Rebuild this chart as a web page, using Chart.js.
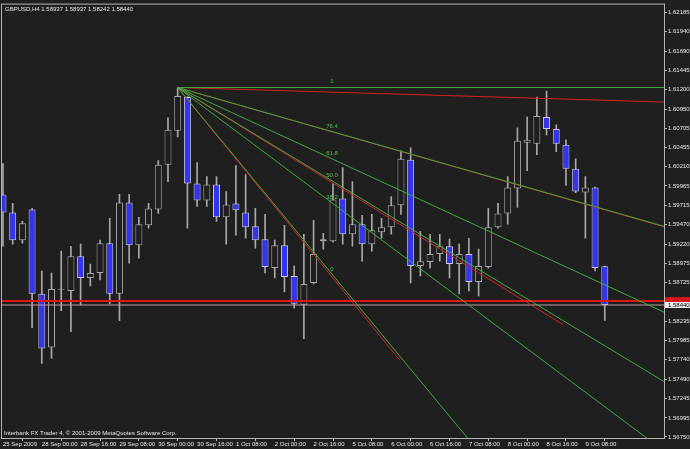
<!DOCTYPE html>
<html>
<head>
<meta charset="utf-8">
<script src="https://cdn.jsdelivr.net/npm/chart.js@4.4.1/dist/chart.umd.min.js"></script>
<style>
  html, body { margin: 0; padding: 0; background: #1f1f1f; }
  canvas { display: block; background: #1f1f1f; }
</style>
</head>
<body>
<canvas id="chart" width="690" height="449"></canvas>
<script>
// GBPUSD H4, one entry per bar (bar 0 = 25 Sep 2009 08:00)
const opens = [1.59856, 1.59626, 1.59270, 1.59664, 1.58583, 1.57895, 1.58634, 1.58621, 1.59066, 1.58786,
  1.58850, 1.59232, 1.58583, 1.59754, 1.59206, 1.59461, 1.59664, 1.60237, 1.60670, 1.61103,
  1.59995, 1.59779, 1.59983, 1.59563, 1.59741, 1.59626, 1.59448, 1.59283, 1.58913, 1.59206,
  1.58812, 1.58442, 1.58723, 1.59257, 1.59257, 1.59805, 1.59346, 1.59474, 1.59219, 1.59372,
  1.59436, 1.59716, 1.60301, 1.58938, 1.58990, 1.59092, 1.59193, 1.58964, 1.59092, 1.58735,
  1.58926, 1.59436, 1.59613, 1.59932, 1.60517, 1.60504, 1.60848, 1.60695, 1.60492, 1.60186,
  1.59881, 1.59944, 1.58937];
const highs = [1.60250, 1.59741, 1.59512, 1.59677, 1.58875, 1.58850, 1.59130, 1.59193, 1.59219, 1.58964,
  1.59270, 1.59550, 1.59856, 1.59856, 1.59563, 1.59741, 1.60288, 1.60836, 1.61225, 1.61110,
  1.60263, 1.60084, 1.60084, 1.59894, 1.60224, 1.60110, 1.59677, 1.59601, 1.59270, 1.59461,
  1.58938, 1.59346, 1.59525, 1.59359, 1.59995, 1.60199, 1.60021, 1.59588, 1.59601, 1.59550,
  1.59830, 1.60415, 1.60453, 1.59384, 1.59346, 1.59346, 1.59283, 1.59219, 1.59295, 1.59155,
  1.59677, 1.59741, 1.60084, 1.60708, 1.60848, 1.61103, 1.61179, 1.60746, 1.60555, 1.60313,
  1.60084, 1.59950, 1.58937];
const lows = [1.59193, 1.59219, 1.59232, 1.58150, 1.57692, 1.57755, 1.58366, 1.58099, 1.58442, 1.58684,
  1.58761, 1.58455, 1.58239, 1.58977, 1.59041, 1.59423, 1.59613, 1.60021, 1.60594, 1.59423,
  1.59703, 1.59703, 1.59512, 1.59219, 1.59333, 1.59295, 1.59168, 1.58850, 1.58786, 1.58608,
  1.58404, 1.58010, 1.58710, 1.59155, 1.59245, 1.59219, 1.59193, 1.59002, 1.59130, 1.59295,
  1.59346, 1.59601, 1.58723, 1.58812, 1.58913, 1.59002, 1.58786, 1.58583, 1.58621, 1.58557,
  1.58913, 1.59423, 1.59474, 1.59690, 1.60161, 1.60364, 1.60619, 1.60403, 1.59970, 1.59880,
  1.59295, 1.58875, 1.58242];
const closes = [1.59626, 1.59270, 1.59487, 1.58583, 1.57882, 1.58646, 1.58646, 1.59066, 1.58786, 1.58850,
  1.59232, 1.58583, 1.59754, 1.59206, 1.59474, 1.59677, 1.60237, 1.60683, 1.61116, 1.59995,
  1.59779, 1.59983, 1.59563, 1.59728, 1.59652, 1.59436, 1.59270, 1.58926, 1.59206, 1.58799,
  1.58455, 1.58710, 1.59092, 1.59283, 1.59792, 1.59346, 1.59474, 1.59219, 1.59397, 1.59436,
  1.59716, 1.60313, 1.58938, 1.59002, 1.59092, 1.59193, 1.58964, 1.59092, 1.58735, 1.58938,
  1.59436, 1.59613, 1.59944, 1.60542, 1.60555, 1.60861, 1.60695, 1.60504, 1.60186, 1.59894,
  1.59944, 1.58913, 1.58440];

const tickBars = [0, 4, 8, 12, 16, 20, 24, 28, 32, 36, 40, 44, 48, 52, 56, 60];
const tickLabels = ["25 Sep 2009", "28 Sep 00:00", "28 Sep 16:00", "29 Sep 08:00", "30 Sep 00:00",
  "30 Sep 16:00", "1 Oct 08:00", "2 Oct 00:00", "2 Oct 16:00", "5 Oct 08:00", "6 Oct 00:00",
  "6 Oct 16:00", "7 Oct 08:00", "8 Oct 00:00", "8 Oct 16:00", "9 Oct 08:00"];
const priceTicks = [1.62185, 1.61940, 1.61690, 1.61445, 1.61200, 1.60950, 1.60705, 1.60455, 1.60210,
  1.59965, 1.59715, 1.59470, 1.59220, 1.58975, 1.58725, 1.58235, 1.57985, 1.57740, 1.57490,
  1.57245, 1.56995, 1.56750];

// fibonacci fan: [bar, price]
const fanStart = [18, 1.61225];
const fanEnd = [34, 1.58820];
const fanLevels = [1, 0.764, 0.618, 0.5, 0.382, 0];
const fanLabels = ["1", "76.4", "61.8", "50.0", "38.2", "0"];
// red trend lines from the fan start: end [bar, price]
const redEnds = [[68.1, 1.61039], [68.1, 1.59442], [57.7, 1.58188], [40.9, 1.57730]];
const hLine = 1.58490;
const bid = 1.58440;

const BG = '#1f1f1f';
const xMin = -0.1, xMax = 68.1;

const wicks = [], bodies = [], bodyFill = [], bodyBorder = [];
opens.forEach((o, i) => {
  const c = closes[i];
  wicks.push({x: i, y: [lows[i], highs[i]]});
  bodies.push({x: i, y: [Math.min(o, c), Math.max(o, c)]});
  bodyFill.push(c < o ? '#3535f0' : BG);
  bodyBorder.push(c < o ? '#c8c8e8' : '#a8a8a8');
});

const lineSet = (pts, color, w) => ({
  type: 'line', data: pts, borderColor: color, borderWidth: w || 1,
  pointRadius: 0, tension: 0, order: 0
});

const datasets = [];
fanLevels.forEach(lv => {
  const p = fanEnd[1] + lv * (fanStart[1] - fanEnd[1]);
  const endP = fanStart[1] + (p - fanStart[1]) * (xMax - fanStart[0]) / (fanEnd[0] - fanStart[0]);
  datasets.push(lineSet([{x: fanStart[0], y: fanStart[1]}, {x: xMax, y: endP}], '#40a840'));
});
redEnds.forEach(e => {
  datasets.push(lineSet([{x: fanStart[0], y: fanStart[1]}, {x: e[0], y: e[1]}], '#d02222'));
});
datasets.push(lineSet([{x: xMin, y: bid}, {x: xMax, y: bid}], '#c09aa4'));
datasets.push(lineSet([{x: xMin, y: hLine}, {x: xMax, y: hLine}], '#e01414', 2));
datasets.push({
  type: 'bar', data: wicks, backgroundColor: '#a8a8a8', grouped: false,
  categoryPercentage: 1, barPercentage: 1, maxBarThickness: 1, order: 2
});
datasets.push({
  type: 'bar', data: bodies, backgroundColor: bodyFill, borderColor: bodyBorder,
  borderWidth: 1, borderSkipped: false, grouped: false,
  categoryPercentage: 1, barPercentage: 0.72, maxBarThickness: 7, order: 1
});

const overlay = {
  id: 'overlay',
  afterDatasetsDraw(chart) {
    const {ctx, chartArea: a, scales: {x, y}} = chart;
    ctx.save();
    ctx.strokeStyle = '#b4b4b4';
    ctx.lineWidth = 1;
    ctx.strokeRect(a.left - 0.5, a.top - 0.5, a.right - a.left + 1, a.bottom - a.top + 1);

    ctx.font = '6px "Liberation Sans"';
    ctx.textAlign = 'center';
    ctx.textBaseline = 'middle';
    ctx.fillStyle = '#50c050';
    fanLevels.forEach((lv, k) => {
      const p = fanEnd[1] + lv * (fanStart[1] - fanEnd[1]);
      ctx.fillText(fanLabels[k], x.getPixelForValue(fanEnd[0]) - 1, y.getPixelForValue(p) - 6);
    });

    ctx.textAlign = 'left';
    ctx.fillStyle = '#e6e6e6';
    ctx.fillText('GBPUSD,H4 ' + [opens, highs, lows, closes].map(s => s[s.length - 1].toFixed(5)).join(' '), a.left + 3, a.top + 5);
    ctx.fillText('Interbank FX Trader 4, \u00a9 2001-2009 MetaQuotes Software Corp.', a.left + 2, a.bottom - 5);

    // price boxes on the right axis
    const yh = y.getPixelForValue(hLine), yb = y.getPixelForValue(bid);
    ctx.fillStyle = '#d81818';
    ctx.fillRect(a.right + 1, yh - 4, chart.width - a.right, 5);
    ctx.fillStyle = '#ececec';
    ctx.fillRect(a.right + 1, yb - 3, chart.width - a.right, 6);
    ctx.fillStyle = '#000';
    ctx.fillText(bid.toFixed(5), a.right + 4, yb);
    ctx.restore();
  }
};

new Chart(document.getElementById('chart'), {
  type: 'bar',
  data: {datasets},
  options: {
    responsive: false,
    animation: false,
    layout: {padding: {left: 2, top: 2, right: 0, bottom: 0}, autoPadding: false},
    plugins: {legend: {display: false}, tooltip: {enabled: false}},
    scales: {
      x: {
        type: 'linear', min: xMin, max: xMax, offset: false,
        afterFit: s => { s.height = 11; },
        afterBuildTicks: s => { s.ticks = tickBars.map(v => ({value: v})); },
        grid: {drawOnChartArea: false, color: '#b4b4b4', tickLength: 3},
        border: {color: '#b4b4b4'},
        ticks: {
          autoSkip: false, maxRotation: 0, align: 'start', padding: 0,
          color: '#e6e6e6', font: {family: 'Liberation Sans', size: 6},
          callback: v => tickLabels[tickBars.indexOf(v)]
        }
      },
      y: {
        position: 'right',
        min: 1.56737, max: 1.62287,
        afterFit: s => { s.width = 26; },
        afterBuildTicks: s => { s.ticks = priceTicks.map(v => ({value: v})); },
        grid: {drawOnChartArea: false, color: '#b4b4b4', tickLength: 3},
        border: {color: '#b4b4b4'},
        ticks: {
          padding: 1, color: '#e6e6e6', font: {family: 'Liberation Sans', size: 6},
          callback: v => v.toFixed(5)
        }
      }
    }
  },
  plugins: [overlay]
});
</script>
</body>
</html>
